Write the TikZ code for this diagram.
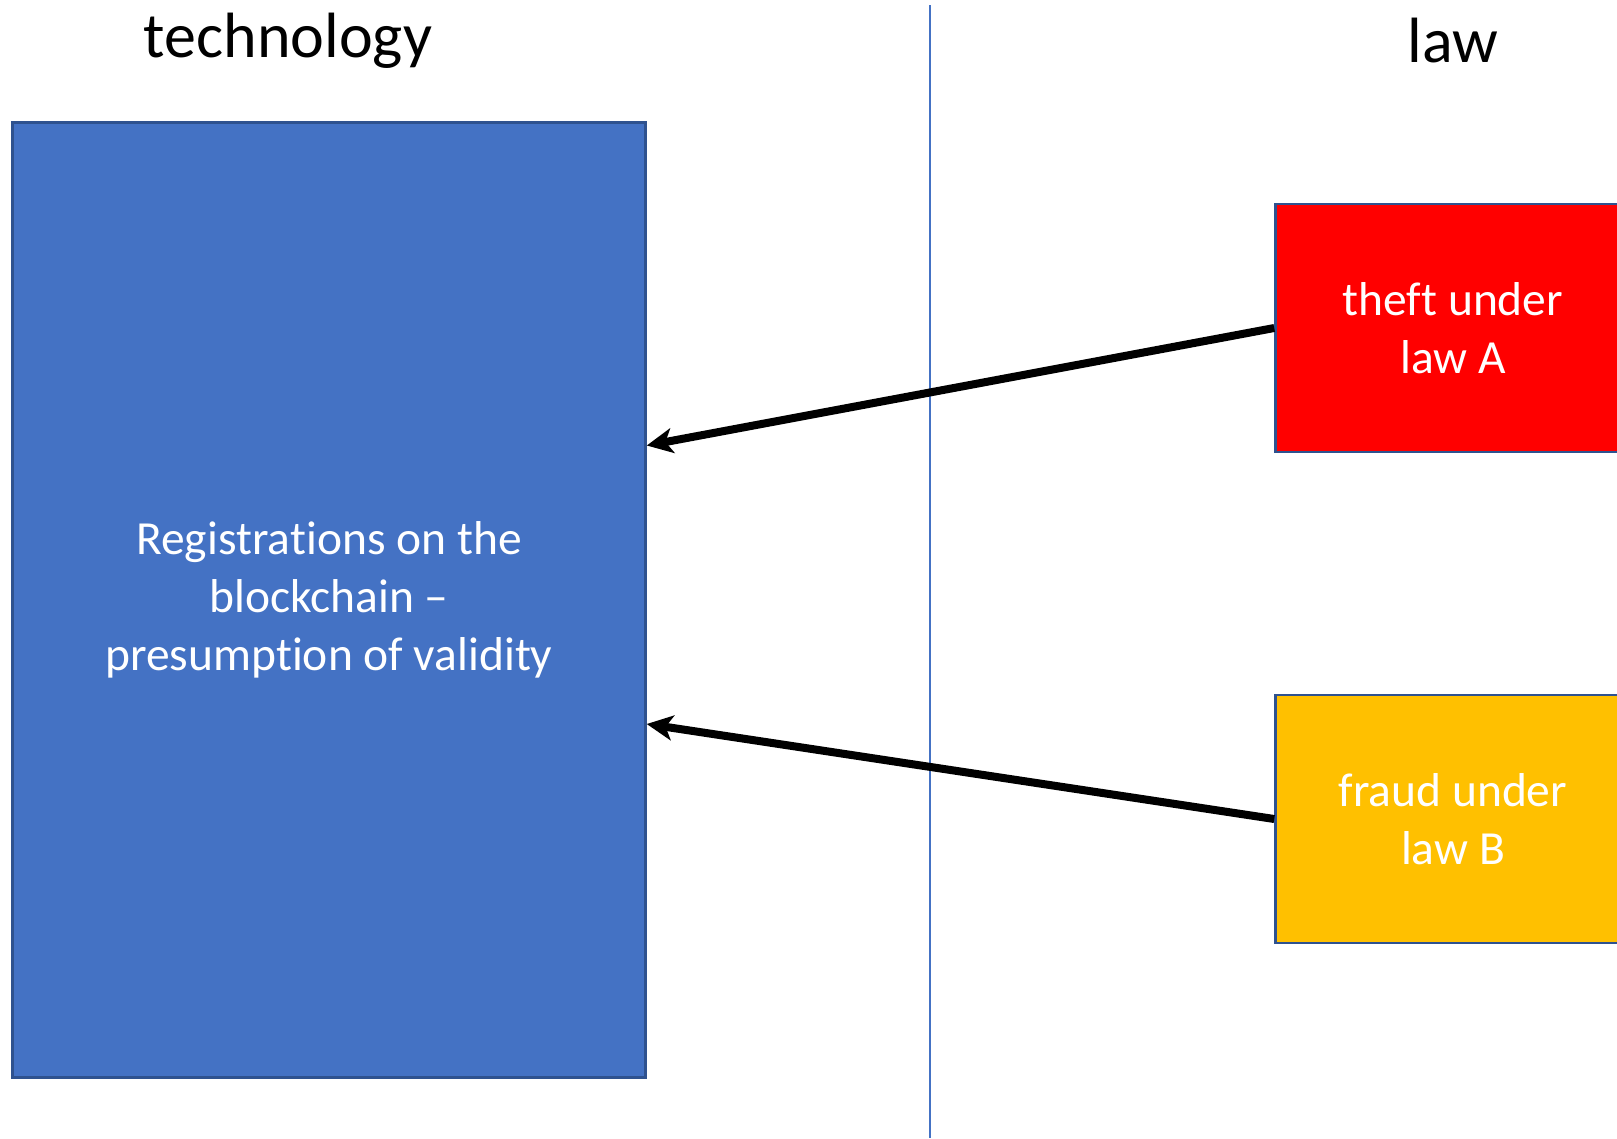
\documentclass[tikz,border=0pt]{standalone}
\usepackage{fontspec}
\setmainfont[Ligatures=NoCommon]{Carlito}
\usetikzlibrary{arrows.meta,calc}
\definecolor{techblue}{HTML}{4472C4}
\definecolor{edgeblue}{HTML}{2F528F}
\definecolor{lawred}{HTML}{FF0000}
\definecolor{lawyellow}{HTML}{FFC000}
\tikzset{
  box/.style={draw=edgeblue,line width=2.5pt,text=white,align=center,
    font=\fontsize{47.5}{58}\selectfont,inner sep=0pt},
  head/.style={font=\fontsize{64}{77}\selectfont},
  link/.style={line width=8pt,-{Stealth[length=26pt,width=25pt,inset=7pt]}}
}
\begin{document}
\begin{tikzpicture}[x=1pt,y=-1pt]
    	\useasboundingbox (0,0) rectangle (1617,1138);
    	
    	\node[head] (tech) at (288, 41)   {technology};
    	\node[head] (law)  at (1453, 41)  {law};
    	
    	\node[box,fill=techblue,minimum width=633pt,minimum height=955pt] (chain) at (329, 600)
    	    {Registra\kern0pt tions on the\\blockchain --\\presumption of validity};
    	\node[box,fill=lawred,minimum width=355pt,minimum height=248pt] (theft) at (1453, 328)
    	    {thef\kern0pt t under\\law A};
    	\node[box,fill=lawyellow,minimum width=355pt,minimum height=248pt] (fraud) at (1453, 819)
    	    {fraud under\\law B};
    	
    	\coordinate (top) at (930, 5);
    	\coordinate (bottom) at (930, 1138);
    	\draw[techblue,line width=2.2pt] (top) -- (bottom);
    	
    	\coordinate (inA) at ($(chain.east)+(0,-154.5)$);
    	\coordinate (inB) at ($(chain.east)+(0,124)$);
    	\draw[link] (theft.west) -- (inA);
    	\draw[link] (fraud.west) -- (inB);
    
\end{tikzpicture}
\end{document}
